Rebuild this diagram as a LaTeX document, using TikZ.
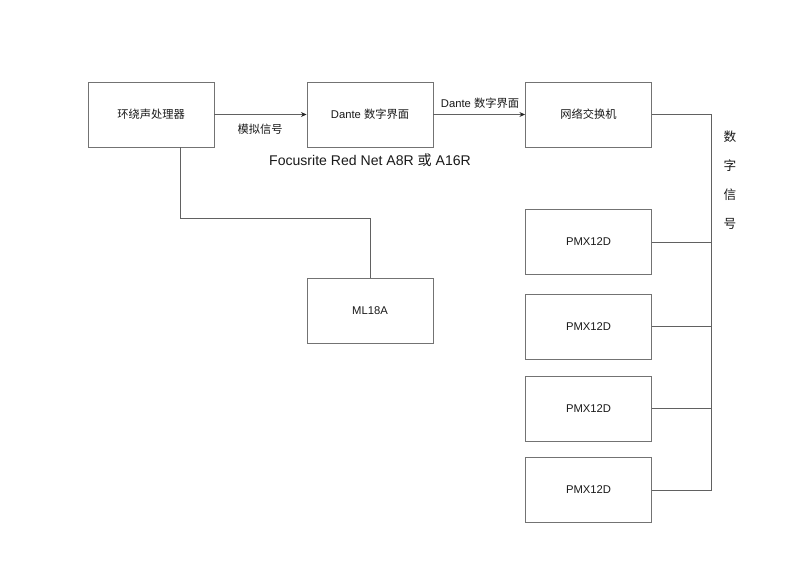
\documentclass[tikz,border=0pt]{standalone}
\usepackage{fontspec}
\setmainfont{Liberation Sans}
\newfontfamily\cjk{Noto Sans CJK SC}
\usetikzlibrary{arrows.meta,positioning}

\tikzset{
	devbox/.style={draw=black!55, line width=0.6pt, minimum width=3.15cm, minimum height=1.625cm, inner sep=0pt, text=black!90, font=\fontsize{8}{10}\selectfont},
	wire/.style={draw=black!62, line width=0.65pt},
	sigarrow/.style={wire, -{Stealth[length=4pt, width=3.5pt, color=black!85]}},
	wirelabel/.style={text=black!90, font=\fontsize{8}{10}\selectfont, inner sep=1pt}
}

\begin{document}
\begin{tikzpicture}[x=0.025cm, y=-0.025cm]
		%%%%% START %%%%%
		\useasboundingbox (0, 0) rectangle (800, 570);
		
		\node[devbox] (proc) at (151, 114.5) {\cjk 环绕声处理器};
		\node[devbox] (dante) at (370, 114.5) {Dante {\cjk 数字界面}};
		\node[devbox] (switch) at (588.5, 114.5) {\cjk 网络交换机};
		\node[devbox] (ml) at (370, 311) {ML18A};
		
		\node[devbox] (pmx1) at (588.5, 242) {PMX12D};
		\node[devbox] (pmx2) at (588.5, 326.5) {PMX12D};
		\node[devbox] (pmx3) at (588.5, 408.5) {PMX12D};
		\node[devbox] (pmx4) at (588.5, 490) {PMX12D};
		
		\draw[sigarrow] (proc) -- (dante);
		\draw[sigarrow] (dante) -- (switch);
		\node[wirelabel] (analog) at (260, 129) {\cjk 模拟信号};
		\node[wirelabel] (dantelbl) at (480, 103) {Dante {\cjk 数字界面}};
		\node[text=black!90, font=\fontsize{10}{12}\selectfont] (focus) at (370, 160) {Focusrite Red Net A8R {\cjk 或} A16R};
		
		\coordinate (split) at (180, 218);
		\draw[wire] (proc.south -| split) -- (split) -| (ml.north);
		
		\coordinate (bus) at (711, 114.5);
		\draw[wire] (switch.east) -- (bus) |- (pmx4.east);
		\foreach \i in {1,2,3}
			\draw[wire] (pmx\i.east) -- (pmx\i.east -| bus);
		
		\node[text=black!90, align=center, font=\cjk\fontsize{9}{20.6}\selectfont] (digital) at (730, 180) {数\\字\\信\\号};
		
		%%%%% END %%%%%
	\end{tikzpicture}
\end{document}
